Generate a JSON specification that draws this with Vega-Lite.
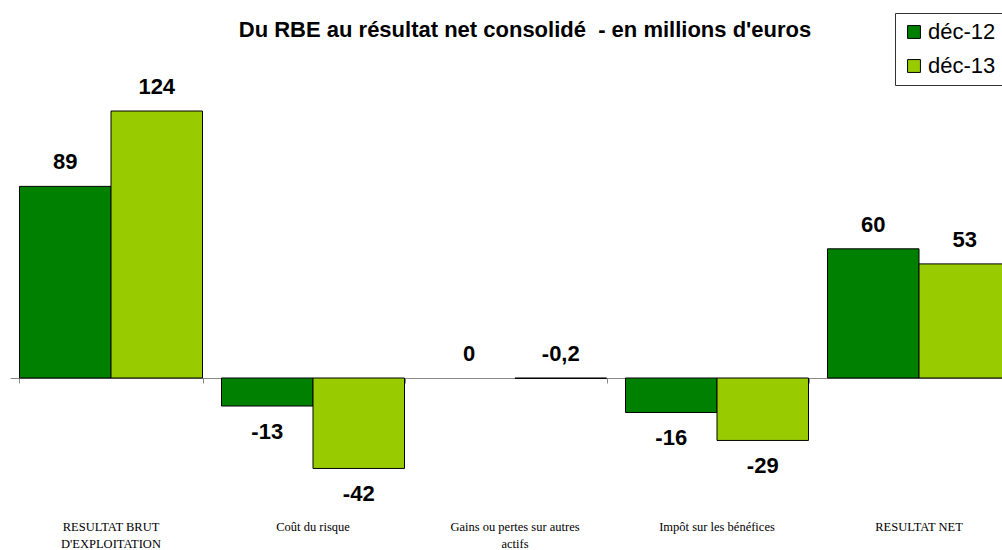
{
  "$schema": "https://vega.github.io/schema/vega-lite/v6.json",
  "autosize": "none",
  "width": 1010,
  "height": 445,
  "padding": {"left": 10, "top": 60, "right": 0, "bottom": 45},
  "background": "white",
  "config": {"view": {"stroke": null}},
  "title": {
    "text": "Du RBE au résultat net consolidé \u00a0- en millions d'euros",
    "font": "Liberation Sans",
    "fontSize": 22,
    "fontWeight": "bold",
    "color": "black",
    "anchor": "middle",
    "orient": "top",
    "frame": "group",
    "dx": 10,
    "offset": -29
  },
  "data": {
    "values": [
      {"categorie": "RESULTAT BRUT D'EXPLOITATION", "serie": "déc-12", "valeur": 89, "etiquette": "89"},
      {"categorie": "RESULTAT BRUT D'EXPLOITATION", "serie": "déc-13", "valeur": 124, "etiquette": "124"},
      {"categorie": "Coût du risque", "serie": "déc-12", "valeur": -13, "etiquette": "-13"},
      {"categorie": "Coût du risque", "serie": "déc-13", "valeur": -42, "etiquette": "-42"},
      {"categorie": "Gains ou pertes sur autres actifs", "serie": "déc-12", "valeur": 0, "etiquette": "0"},
      {"categorie": "Gains ou pertes sur autres actifs", "serie": "déc-13", "valeur": -0.2, "etiquette": "-0,2"},
      {"categorie": "Impôt sur les bénéfices", "serie": "déc-12", "valeur": -16, "etiquette": "-16"},
      {"categorie": "Impôt sur les bénéfices", "serie": "déc-13", "valeur": -29, "etiquette": "-29"},
      {"categorie": "RESULTAT NET", "serie": "déc-12", "valeur": 60, "etiquette": "60"},
      {"categorie": "RESULTAT NET", "serie": "déc-13", "valeur": 53, "etiquette": "53"}
    ]
  },
  "resolve": {"axis": {"x": "independent"}},
  "encoding": {
    "x": {
      "field": "categorie",
      "type": "nominal",
      "sort": null,
      "scale": {"paddingInner": 0.094, "paddingOuter": 0.047}
    },
    "xOffset": {
      "field": "serie",
      "type": "nominal",
      "scale": {"paddingInner": 0, "paddingOuter": 0}
    },
    "y": {
      "field": "valeur",
      "type": "quantitative",
      "scale": {"domain": [-58.98, 147.7], "nice": false, "zero": false},
      "axis": null
    }
  },
  "layer": [
    {
      "mark": {"type": "bar", "stroke": "black", "strokeWidth": 1},
      "encoding": {
        "x": {
          "field": "categorie",
          "type": "nominal",
          "sort": null,
          "axis": {
            "orient": "bottom",
            "title": null,
            "domain": false,
            "ticks": false,
            "labelAngle": 0,
            "labelFont": "Liberation Serif",
            "labelFontSize": 12.5,
            "labelColor": "black",
            "labelPadding": 15,
            "labelLineHeight": 17,
            "labelBaseline": "top",
            "labelLimit": 300,
            "labelExpr": "datum.value == \"RESULTAT BRUT D'EXPLOITATION\" ? ['RESULTAT BRUT', \"D'EXPLOITATION\"] : datum.value == 'Gains ou pertes sur autres actifs' ? ['Gains ou pertes sur autres', 'actifs'] : datum.value"
          }
        },
        "color": {
          "field": "serie",
          "type": "nominal",
          "scale": {"domain": ["déc-12", "déc-13"], "range": ["#008000", "#99CC00"]},
          "legend": {
            "title": null,
            "orient": "none",
            "legendX": 885,
            "legendY": -47,
            "strokeColor": "#333333",
            "fillColor": "white",
            "padding": 8,
            "symbolType": "square",
            "symbolSize": 165,
            "symbolStrokeColor": "black",
            "symbolStrokeWidth": 1,
            "labelFont": "Liberation Sans",
            "labelFontSize": 22,
            "labelColor": "black",
            "rowPadding": 12,
            "labelOffset": 3
          }
        },
        "strokeOpacity": {
          "condition": {"test": "datum.valeur == 0", "value": 0},
          "value": 1
        }
      }
    },
    {
      "transform": [{"filter": "datum.valeur >= -1"}],
      "mark": {
        "type": "text",
        "font": "Liberation Sans",
        "fontSize": 22,
        "fontWeight": "bold",
        "color": "black",
        "baseline": "middle",
        "dy": -24
      },
      "encoding": {
        "x": {
          "field": "categorie",
          "type": "nominal",
          "sort": null,
          "axis": {
            "orient": "bottom",
            "offset": -127,
            "title": null,
            "labels": false,
            "domain": true,
            "domainColor": "#888888",
            "domainWidth": 1,
            "ticks": true,
            "tickColor": "#888888",
            "tickSize": 5,
            "tickBand": "extent"
          }
        },
        "text": {"field": "etiquette", "type": "nominal"}
      }
    },
    {
      "transform": [{"filter": "datum.valeur < -1"}],
      "mark": {
        "type": "text",
        "font": "Liberation Sans",
        "fontSize": 22,
        "fontWeight": "bold",
        "color": "black",
        "baseline": "middle",
        "dy": 26
      },
      "encoding": {
        "x": {"field": "categorie", "type": "nominal", "sort": null, "axis": null},
        "text": {"field": "etiquette", "type": "nominal"}
      }
    }
  ]
}
